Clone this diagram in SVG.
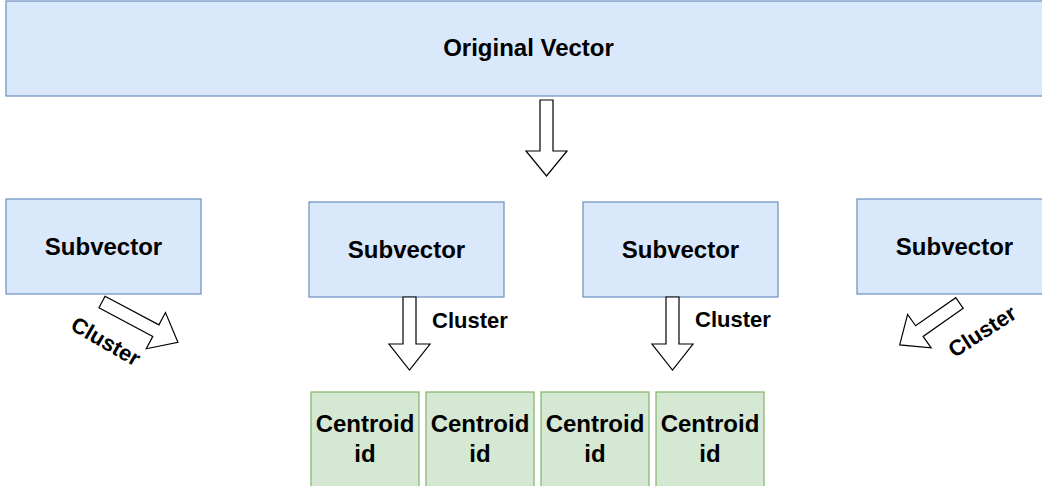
<svg xmlns="http://www.w3.org/2000/svg" width="1042" height="486" viewBox="0 0 1042 486">
  <style>
    .blue { fill: #dae8fc; stroke: #6c8ebf; stroke-width: 1.2; }
    .green { fill: #d5e8d4; stroke: #82b366; stroke-width: 1.2; }
    .arrow { fill: #ffffff; stroke: #000000; stroke-width: 1.2; stroke-linejoin: miter; }
    text { font-family: "Liberation Sans", Arial, Helvetica, sans-serif; font-weight: bold; fill: #000000; }
    .big { font-size: 24px; text-anchor: middle; }
    .lbl { font-size: 22px; }
    .rlbl { font-size: 22px; text-anchor: middle; }
  </style>

  <!-- Input vector -->
  <g id="original-vector">
    <rect class="blue" x="6" y="1" width="1045" height="95"/>
    <text class="big" x="528.5" y="56">Original Vector</text>
  </g>

  <!-- Subvectors -->
  <g id="subvector-1">
    <rect class="blue" x="6" y="199" width="195" height="95"/>
    <text class="big" x="103.5" y="255">Subvector</text>
  </g>
  <g id="subvector-2">
    <rect class="blue" x="309" y="202" width="195" height="95"/>
    <text class="big" x="406.5" y="258">Subvector</text>
  </g>
  <g id="subvector-3">
    <rect class="blue" x="583" y="202" width="195" height="95"/>
    <text class="big" x="680.5" y="258">Subvector</text>
  </g>
  <g id="subvector-4">
    <rect class="blue" x="857" y="199" width="195" height="95"/>
    <text class="big" x="954.5" y="255">Subvector</text>
  </g>

  <!-- Centroid ids -->
  <g id="centroid-1">
    <rect class="green" x="311" y="392" width="108" height="110"/>
    <text class="big" x="365" y="432">Centroid</text>
    <text class="big" x="365" y="462">id</text>
  </g>
  <g id="centroid-2">
    <rect class="green" x="426" y="392" width="108" height="110"/>
    <text class="big" x="480" y="432">Centroid</text>
    <text class="big" x="480" y="462">id</text>
  </g>
  <g id="centroid-3">
    <rect class="green" x="541" y="392" width="108" height="110"/>
    <text class="big" x="595" y="432">Centroid</text>
    <text class="big" x="595" y="462">id</text>
  </g>
  <g id="centroid-4">
    <rect class="green" x="656" y="392" width="108" height="110"/>
    <text class="big" x="710" y="432">Centroid</text>
    <text class="big" x="710" y="462">id</text>
  </g>

  <!-- Block arrows (drawn along +x, then placed and rotated) -->
  <g id="connectors">
    <polygon class="arrow" transform="translate(546.5,100) rotate(90)"
      points="0,-6.5 51,-6.5 51,-20.5 76,0 51,20.5 51,6.5 0,6.5"/>
    <polygon class="arrow" transform="translate(409.5,297) rotate(90)"
      points="0,-6.5 47,-6.5 47,-20.5 73,0 47,20.5 47,6.5 0,6.5"/>
    <polygon class="arrow" transform="translate(672.5,297) rotate(90)"
      points="0,-6.5 47,-6.5 47,-20.5 73,0 47,20.5 47,6.5 0,6.5"/>
    <polygon class="arrow" transform="translate(102,302) rotate(28)"
      points="0,-6.5 61,-6.5 61,-20.5 86,0 61,20.5 61,6.5 0,6.5"/>
    <polygon class="arrow" transform="translate(959.5,303) rotate(145)"
      points="0,-6.5 49,-6.5 49,-20.5 73,0 49,20.5 49,6.5 0,6.5"/>

    <text class="lbl" x="432" y="328">Cluster</text>
    <text class="lbl" x="695" y="327">Cluster</text>
    <g transform="translate(106,341) rotate(30)">
      <text class="rlbl" x="0" y="8">Cluster</text>
    </g>
    <g transform="translate(982,331) rotate(-33)">
      <text class="rlbl" x="0" y="8">Cluster</text>
    </g>
  </g>
</svg>
